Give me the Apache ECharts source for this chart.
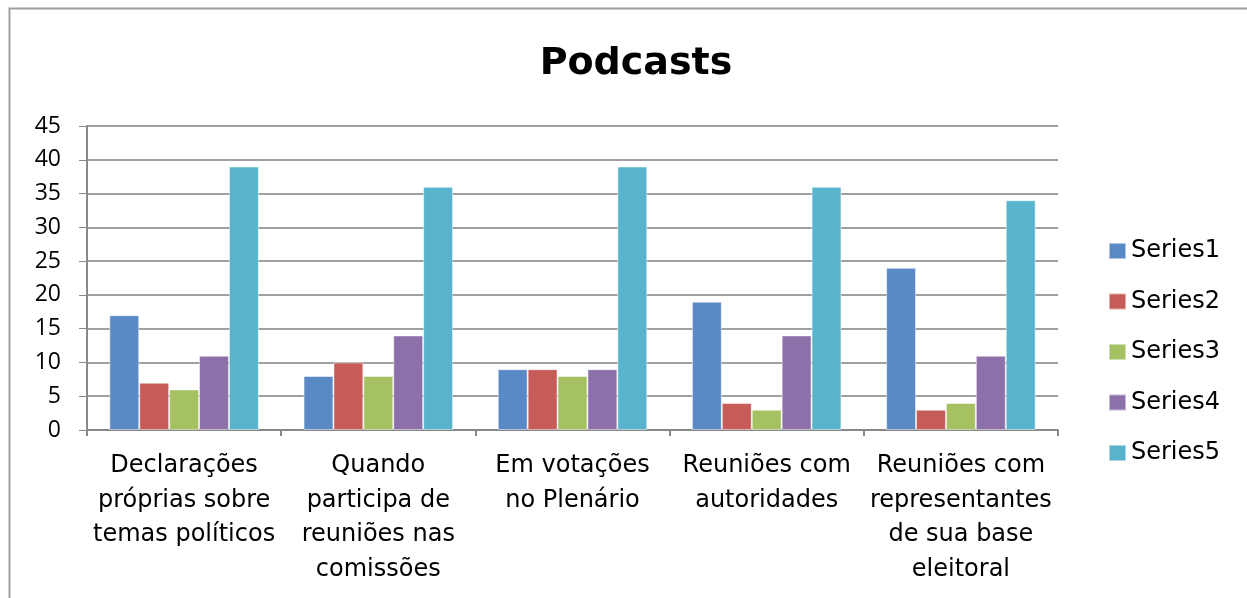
<!DOCTYPE html>
<html>
<head>
<meta charset="utf-8">
<script src="https://cdn.jsdelivr.net/npm/echarts@6/dist/echarts.min.js"></script>
<style>
  html, body { margin: 0; padding: 0; background: #fff; }
  #chart { width: 1247px; height: 598px; }
</style>
</head>
<body>
<div id="chart"></div>
<script>
// dados
var categories = [
  'Declarações\npróprias sobre\ntemas políticos',
  'Quando\nparticipa de\nreuniões nas\ncomissões',
  'Em votações\nno Plenário',
  'Reuniões com\nautoridades',
  'Reuniões com\nrepresentantes\nde sua base\neleitoral'
];
var seriesNames = ['Series1', 'Series2', 'Series3', 'Series4', 'Series5'];
var series1 = [17, 8, 9, 19, 24];
var series2 = [7, 10, 9, 4, 3];
var series3 = [6, 8, 8, 3, 4];
var series4 = [11, 14, 9, 14, 11];
var series5 = [39, 36, 39, 36, 34];
var colors = ['#5a8ac6', '#c65b57', '#a5c162', '#8b70aa', '#57b4cc'];

var values = [series1, series2, series3, series4, series5];
var font = '"DejaVu Sans", sans-serif';
var numFont = '"Liberation Sans Narrow", "Open Sans", sans-serif';

var myChart = echarts.init(document.getElementById('chart'));
myChart.setOption({
  animation: false,
  color: colors,
  textStyle: { fontFamily: font },
  graphic: [{
    type: 'rect',
    shape: { x: 9.5, y: 8.5, width: 1260, height: 620 },
    style: { fill: 'none', stroke: '#a0a0a0', lineWidth: 2 },
    silent: true
  }],
  title: {
    text: 'Podcasts',
    left: 631,
    textAlign: 'center',
    top: 40,
    textStyle: { fontFamily: font, fontSize: 38, fontWeight: 'bold', color: '#000' }
  },
  legend: {
    orient: 'vertical',
    left: 1103,
    top: 234,
    itemWidth: 17,
    itemHeight: 16,
    itemGap: 26.5,
    icon: 'rect',
    textStyle: { fontFamily: font, fontSize: 24, color: '#000' },
    data: seriesNames
  },
  grid: { left: 87, right: 189, top: 126, bottom: 168 },
  xAxis: {
    type: 'category',
    data: categories,
    axisLine: { lineStyle: { color: '#888', width: 2 } },
    axisTick: { show: true, length: 6, lineStyle: { color: '#888', width: 2 } },
    axisLabel: { fontFamily: font, fontSize: 24, color: '#000', lineHeight: 34.5, margin: 19, interval: 0 }
  },
  yAxis: {
    type: 'value',
    min: 0,
    max: 45,
    interval: 5,
    axisLine: { show: true, lineStyle: { color: '#888', width: 2 } },
    axisTick: { show: true, length: 8, lineStyle: { color: '#888' } },
    axisLabel: { fontFamily: numFont, fontSize: 23, color: '#000', margin: 26 },
    splitLine: { lineStyle: { color: '#a0a0a0', width: 2 } }
  },
  series: seriesNames.map(function (name, i) {
    return {
      name: name,
      type: 'bar',
      data: values[i],
      barGap: '0%',
      barCategoryGap: '23%',
      itemStyle: { color: colors[i], borderColor: 'rgba(255,255,255,0.5)', borderWidth: 1 }
    };
  })
});
</script>
</body>
</html>
